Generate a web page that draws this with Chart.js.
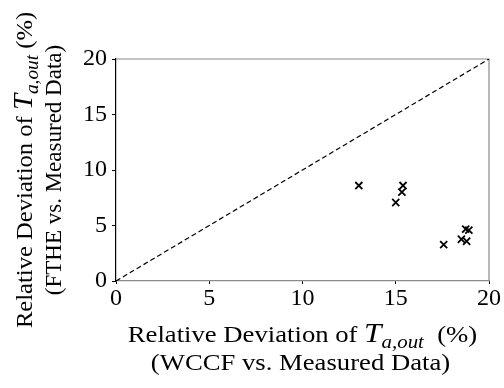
<!DOCTYPE html>
<html>
<head>
<meta charset="utf-8">
<script src="https://cdn.jsdelivr.net/npm/chart.js@4.4.0/dist/chart.umd.min.js"></script>
<style>
  html, body { margin: 0; padding: 0; background: #fff; }
  canvas { display: block; }
</style>
</head>
<body>
<canvas id="chart" width="504" height="388"></canvas>
<script>
// Scatter: WCCF deviation (x) vs FTHE deviation (y)

const wccfDev = [13.02, 15.39, 15.33, 15.0, 17.57, 18.52, 18.8, 18.75, 18.92];
const ftheDev = [8.6, 8.6, 8.0, 7.07, 3.28, 3.76, 3.58, 4.67, 4.58];
const refLine = [0, 20];
const tickValues = [0, 5, 10, 15, 20];

const serif = '"Liberation Serif", "Times New Roman", serif';

// Draws a line made of mixed-style pieces, centred on cx, stretched by sx along the text
function drawRichLine(ctx, pieces, cx, baseline, sx) {
    let total = 0;
    pieces.forEach(p => {
        ctx.font = p.font;
        p.w = ctx.measureText(p.text).width;
        total += p.w;
    });
    ctx.save();
    ctx.translate(cx, baseline);
    ctx.scale(sx, 1);
    let x = -total / 2;
    pieces.forEach(p => {
        ctx.font = p.font;
        ctx.fillText(p.text, x, p.dy || 0);
        x += p.w;
    });
    ctx.restore();
}

function titlePieces(rest) {
    return [
        { text: 'Relative Deviation of ', font: '23px ' + serif },
        { text: 'T', font: 'italic 27px ' + serif },
        { text: 'a,out', font: 'italic 18px ' + serif, dy: 6 },
        { text: rest, font: '23px ' + serif }
    ];
}

const framePlugin = {
    id: 'frame',
    beforeDatasetsDraw(chart) {
        const { ctx, chartArea: a } = chart;
        ctx.save();
        ctx.strokeStyle = '#8a8a8a';
        ctx.lineWidth = 1.2;
        ctx.beginPath();
        ctx.moveTo(a.left, a.top);
        ctx.lineTo(a.right, a.top);
        ctx.lineTo(a.right, a.bottom);
        ctx.stroke();
        ctx.restore();
    }
};

const titlesPlugin = {
    id: 'titles',
    afterDraw(chart) {
        const { ctx, chartArea: a } = chart;
        const cx = (a.left + a.right) / 2;
        const cy = (a.top + a.bottom) / 2;
        ctx.save();
        ctx.fillStyle = '#000';
        ctx.textBaseline = 'alphabetic';
        ctx.textAlign = 'left';

        // x axis title
        drawRichLine(ctx, titlePieces('  (%)'), cx, 342, 1.16);
        drawRichLine(ctx, [{ text: '(WCCF vs. Measured Data)', font: '23px ' + serif }], cx - 2, 370, 1.16);

        // y axis title (rotated)
        ctx.translate(0, cy);
        ctx.rotate(-Math.PI / 2);
        drawRichLine(ctx, titlePieces(' (%)'), 0, 32, 1.07);
        drawRichLine(ctx, [{ text: '(FTHE vs. Measured Data)', font: '23px ' + serif }], 0, 61, 1.0);
        ctx.restore();
    }
};

const ctx = document.getElementById('chart').getContext('2d');

new Chart(ctx, {
    type: 'scatter',
    data: {
        datasets: [
            {
                label: 'Deviation',
                data: wccfDev.map((x, i) => ({ x: x, y: ftheDev[i] })),
                pointStyle: 'crossRot',
                pointRadius: 5,
                pointBorderWidth: 1.8,
                borderColor: '#000',
                backgroundColor: '#000'
            },
            {
                label: 'y = x',
                type: 'line',
                data: refLine.map(v => ({ x: v, y: v })),
                borderColor: '#000',
                borderWidth: 1.2,
                borderDash: [5, 3],
                pointRadius: 0,
                fill: false
            }
        ]
    },
    options: {
        responsive: false,
        animation: false,
        layout: {
            padding: { top: 59, right: 15, left: 0, bottom: 0 }
        },
        plugins: {
            legend: { display: false },
            tooltip: { enabled: false }
        },
        scales: {
            x: {
                type: 'linear',
                min: 0,
                max: 20,
                afterFit: (scale) => { scale.height = 107; },
                afterBuildTicks: (scale) => { scale.ticks = tickValues.map(v => ({ value: v })); },
                border: { display: true, color: '#8a8a8a', width: 1.2 },
                grid: {
                    drawOnChartArea: false,
                    drawTicks: true,
                    tickLength: 3,
                    tickColor: '#000'
                },
                ticks: {
                    color: '#000',
                    padding: 0,
                    maxRotation: 0,
                    font: { family: serif, size: 24 }
                }
            },
            y: {
                type: 'linear',
                min: 0,
                max: 20,
                afterFit: (scale) => { scale.width = 116; },
                afterBuildTicks: (scale) => { scale.ticks = tickValues.map(v => ({ value: v })); },
                border: { display: true, color: '#000', width: 1.2 },
                grid: {
                    drawOnChartArea: false,
                    drawTicks: true,
                    tickLength: 4,
                    tickColor: '#000'
                },
                ticks: {
                    color: '#000',
                    padding: 5,
                    font: { family: serif, size: 24 }
                }
            }
        }
    },
    plugins: [framePlugin, titlesPlugin]
});
</script>
</body>
</html>
